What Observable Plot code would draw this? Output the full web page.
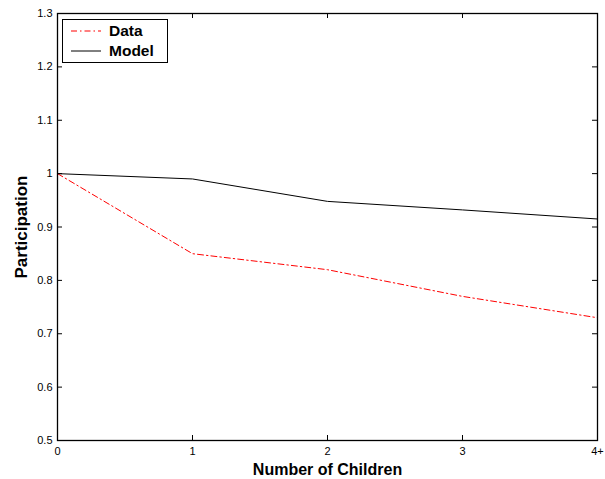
<!DOCTYPE html>
<html><head><meta charset="utf-8">
<script src="https://cdn.jsdelivr.net/npm/d3@7"></script>
<script src="https://cdn.jsdelivr.net/npm/@observablehq/plot@0.6"></script>
<style>
html,body{margin:0;padding:0;background:#fff;}
#wrap{position:relative;width:605px;height:479px;font-family:"Liberation Sans",Arial,sans-serif;}
#legend{position:absolute;left:62px;top:19px;width:104px;height:42px;border:1.5px solid #000;background:#fff;box-sizing:content-box;}
#legend .row{position:absolute;left:0;height:20px;display:flex;align-items:center;font-weight:bold;font-size:15.5px;}
</style></head>
<body><div id="wrap"><div id="chart"></div>
<div id="legend">
 <div class="row" style="top:1px"><svg width="44" height="20"><line x1="8" x2="38" y1="10" y2="10" stroke="#ff0000" stroke-width="1.2" stroke-dasharray="6,3,1.5,3"/></svg><span style="margin-left:2px">Data</span></div>
 <div class="row" style="top:21px"><svg width="44" height="20"><line x1="8" x2="38" y1="10" y2="10" stroke="black" stroke-width="1"/></svg><span style="margin-left:2px">Model</span></div>
</div></div>
<script>
const xCats = ["0", "1", "2", "3", "4+"];
const xPos = [0, 1, 2, 3, 4];
const dataVals = [1.0, 0.85, 0.82, 0.77, 0.73];
const modelVals = [1.0, 0.99, 0.948, 0.932, 0.915];
const yTicks = [0.5, 0.6, 0.7, 0.8, 0.9, 1.0, 1.1, 1.2, 1.3];

const W = 605, H = 479, mL = 57, mR = 8, mT = 13, mB = 39;
const innerW = W - mL - mR, innerH = H - mT - mB, tk = 5;
const dataRows = xPos.map((x, i) => ({x, y: dataVals[i]}));
const modelRows = xPos.map((x, i) => ({x, y: modelVals[i]}));

const chart = Plot.plot({
  width: W, height: H,
  marginLeft: mL, marginRight: mR, marginTop: mT, marginBottom: mB,
  style: {fontFamily: '"Liberation Sans", Arial, sans-serif', fontSize: "11px", color: "#000", background: "#fff"},
  x: {domain: [0, 4]},
  y: {domain: [0.5, 1.3]},
  marks: [
    Plot.line(modelRows, {x: "x", y: "y", stroke: "black", strokeWidth: 1}),
    Plot.line(dataRows, {x: "x", y: "y", stroke: "red", strokeWidth: 1, strokeDasharray: "6,3,1.5,3"}),
    Plot.tickX(xPos, {x: d => d, insetTop: innerH - tk, stroke: "black"}),
    Plot.tickX(xPos, {x: d => d, insetBottom: innerH - tk, stroke: "black"}),
    Plot.tickY(yTicks, {y: d => d, insetRight: innerW - tk, stroke: "black"}),
    Plot.tickY(yTicks, {y: d => d, insetLeft: innerW - tk, stroke: "black"}),
    Plot.frame({stroke: "black", strokeWidth: 1.3}),
    Plot.axisX(xPos, {tickSize: 0, tickPadding: 7, tickFormat: d => xCats[d], label: "Number of Children", labelAnchor: "center", labelOffset: 34, labelArrow: "none"}),
    Plot.axisY(yTicks, {tickSize: 0, tickPadding: 5, tickFormat: d => String(+d.toFixed(1)), label: "Participation", labelAnchor: "center", labelOffset: 43, labelArrow: "none"})
  ]
});
document.getElementById("chart").appendChild(chart);
d3.select(chart).selectAll('[aria-label="x-axis label"] text')
  .style("font-weight", "bold").style("font-size", "16px");
d3.select(chart).selectAll('[aria-label="y-axis label"] text')
  .style("font-weight", "bold").style("font-size", "17px");
</script></body></html>
